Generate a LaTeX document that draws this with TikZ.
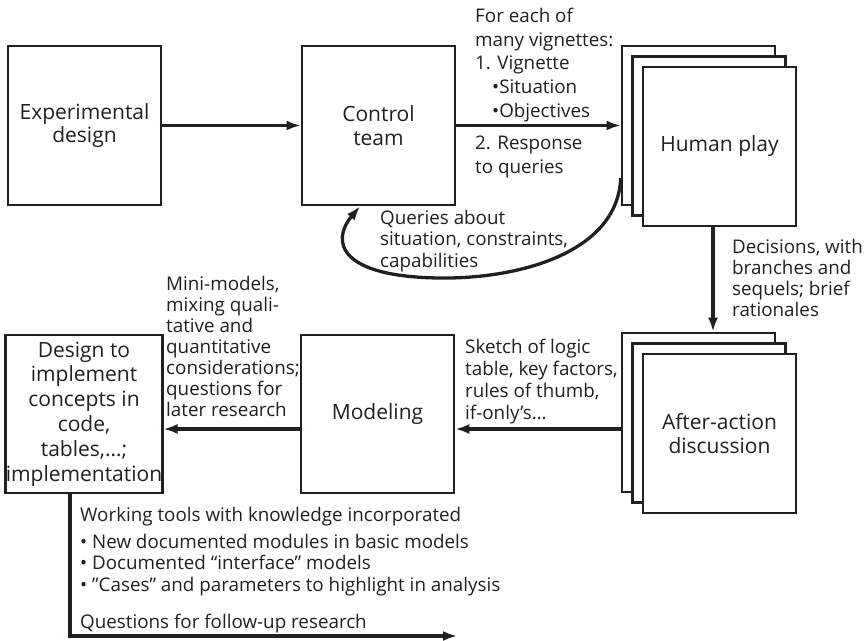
\documentclass[tikz,border=0pt]{standalone}
\usepackage{fontspec}
\setmainfont{Open Sans}
\usetikzlibrary{arrows.meta}
\definecolor{ink}{HTML}{231F20}
\newcommand\boxfont[1]{\fontsize{21}{#1}\selectfont}
\newcommand\lblfont[1]{\fontsize{18.8}{#1}\selectfont}
\begin{document}
\begin{tikzpicture}[x=1pt,y=-1pt,
  box/.style={draw=ink, line width=2.7pt, fill=white, minimum width=153pt,
    minimum height=159pt, inner sep=0pt, align=center, text=ink,
    font={\boxfont{23.4}}},
  % label blocks are placed by the baseline of their last line
  lbl/.style={inner sep=0pt, align=left, anchor=base west, text=ink},
  arr/.style={draw=ink, line width=3.3pt, -{Latex[length=14pt,width=10pt]}}]
\useasboundingbox (0,0) rectangle (864,640);

% top row
\node[box] (exp) at (84.5,125.5) {Experimental\\design};
\node[box] (ctrl) at (378.5,125.5) {Control\\team};

% stacked sheets for the human play
\node[box] (hback) at (698.5,125.5) {};
\node[box] (hmid) at (709,136) {};
\node[box] (hfront) at (719.5,146.5) {Human play};

% stacked sheets for the after-action discussion
\node[box] (aback) at (698.5,412.5) {};
\node[box] (amid) at (709,423) {};
\node[box] (afront) at (719.5,433.5) {After-action\\discussion};

% bottom row
\node[box, minimum height=158pt] (model) at (377.5,414) {Modeling};
\node[box, minimum width=154pt, minimum height=158pt, font={\boxfont{24.8}}] (design) at (84,414)
  {Design to\\implement\\concepts in\\code,\\tables,…;\\implementation};

% connectors
\draw[arr] (exp.east) -- (ctrl.west);
\draw[arr] (ctrl.east) -- (hback.west);
\draw[arr] ([xshift=-6.5pt]hfront.south) -- ([xshift=-6.5pt]hfront.south |- aback.north);
\draw[arr] ([yshift=-16.5pt]aback.west) -- ([yshift=-16.5pt]aback.west -| model.east);
\draw[arr] ([yshift=-15pt]model.west) -- ([yshift=-15pt]model.west -| design.east);
\draw[arr] ([yshift=-52.5pt]hback.west) .. controls (618,252) and (520,279) .. (440,278)
  .. controls (340,277) and (330,242) .. ([xshift=-18.5pt]ctrl.south);
\coordinate (qend) at (457,636);
\draw[arr] ([xshift=-14pt]design.south) |- (qend);

% labels
\node[lbl, font={\lblfont{23.6}}] (vig) at (475,117)
  {For each of\\many vignettes:\\1. Vignette\\\hspace*{17pt}•Situation\\\hspace*{17pt}•Objectives};
\node[lbl, font={\lblfont{23.4}}] (resp) at (475,173) {2. Response\\to queries};
\node[lbl, font={\lblfont{21.3}}] (qry) at (380,267)
  {Queries about\\situation, constraints,\\capabilities};
\node[lbl, font={\lblfont{21}}] (dec) at (732,316)
  {Decisions, with\\branches and\\sequels; brief\\rationales};
\node[lbl, font={\lblfont{22}}] (sketch) at (465,419)
  {Sketch of logic\\table, key factors,\\rules of thumb,\\if-only’s…};
\node[lbl, font={\lblfont{21}}] (mini) at (166,416)
  {Mini-models,\\mixing quali-\\tative and\\quantitative\\considerations;\\questions for\\later research};
\node[lbl, font={\lblfont{21.5}}] (tools) at (80,628)
  {Working tools with knowledge incorporated\\[5.5pt]• New documented modules in basic models\\• Documented “interface” models\\• ”Cases” and parameters to highlight in analysis\\[15.5pt]Questions for follow-up research};
\end{tikzpicture}
\end{document}
